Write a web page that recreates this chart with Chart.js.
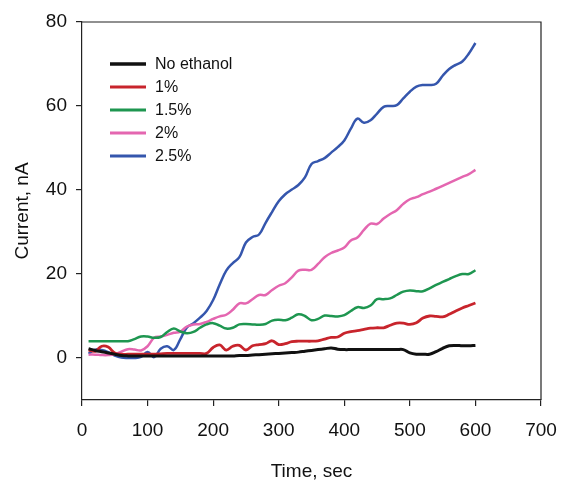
<!DOCTYPE html>
<html>
<head>
<meta charset="utf-8">
<script src="https://cdn.jsdelivr.net/npm/chart.js@4"></script>
<style>
  html, body { margin:0; padding:0; background:#fff; }
  #wrap { width:561px; height:483px; }
</style>
</head>
<body>
<div id="wrap"><canvas id="chart" width="561" height="483"></canvas></div>
<script>
// time axis (sec), one reading every 10 s
const times = [10,20,30,40,50,60,70,80,90,100,110,120,130,140,150,160,170,180,190,200,
               210,220,230,240,250,260,270,280,290,300,310,320,330,340,350,360,370,380,390,400,
               410,420,430,440,450,460,470,480,490,500,510,520,530,540,550,560,570,580,590,600];

const seriesNames = ["No ethanol", "1%", "1.5%", "2%", "2.5%"];

const noEthanol = [2.2,1.8,1.5,1.2,0.9,0.6,0.5,0.5,0.5,0.5,0.5,0.5,0.5,0.5,0.5,0.5,0.5,0.5,0.5,0.5,
                   0.5,0.5,0.5,0.6,0.6,0.7,0.8,0.9,1.0,1.1,1.2,1.3,1.4,1.6,1.8,2.0,2.2,2.4,2.1,2.0,
                   2.0,2.0,2.0,2.0,2.0,2.0,2.0,2.0,2.0,1.2,0.9,0.9,0.9,1.5,2.3,2.9,3.0,2.9,2.9,3.0];

const eth1 = [1.9,1.6,2.8,2.6,1.2,0.9,0.9,0.9,0.9,0.9,0.9,1.0,1.1,1.1,1.1,1.1,1.1,1.1,1.1,2.5,
              3.1,1.9,2.8,3.0,1.9,2.9,3.2,3.4,4.1,3.2,3.4,3.9,4.0,4.0,4.0,4.1,4.5,4.9,5.0,5.9,
              6.3,6.5,6.8,7.1,7.2,7.2,7.8,8.3,8.3,8.0,8.4,9.5,10.0,9.9,9.8,10.4,11.2,11.9,12.5,13.1];

const eth15 = [4.0,4.0,4.0,4.0,4.0,4.0,4.0,4.5,5.1,5.1,4.8,5.0,6.2,7.0,6.3,5.9,6.2,7.2,8.0,8.3,
               7.7,7.0,7.2,8.0,8.1,8.0,7.9,8.1,8.9,9.1,9.0,9.6,10.4,10.0,9.0,9.3,10.1,10.0,9.9,10.2,
               11.2,12.1,11.9,12.5,14.0,14.0,14.2,15.0,15.8,16.1,15.9,15.9,16.6,17.4,18.1,18.8,19.5,20.0,20.0,20.9];

const eth2 = [0.8,0.8,0.7,0.7,0.9,1.5,2.1,2.0,1.8,2.8,4.8,5.1,5.5,6.0,6.3,7.5,8.0,8.1,8.6,9.3,
              9.9,10.3,11.5,13.0,13.0,14.0,15.0,15.0,16.2,17.2,17.8,19.2,20.8,21.0,21.0,22.4,24.0,25.0,25.6,26.3,
              28.0,28.7,30.5,32.0,31.9,33.2,34.3,35.2,36.7,37.8,38.3,39.0,39.6,40.3,41.0,41.7,42.4,43.1,43.8,44.8];

const eth25 = [1.0,2.0,1.9,1.4,0.6,0.1,0.0,0.0,0.3,1.4,0.2,2.2,2.8,1.9,4.5,7.3,8.3,9.6,11.2,13.8,
               17.5,20.8,22.6,24.0,27.5,28.8,29.4,32.2,34.8,37.3,39.0,40.1,41.2,43.0,46.2,46.9,47.6,48.9,50.2,51.8,
               54.6,57.0,56.0,56.6,58.2,59.8,60.0,60.2,61.8,63.4,64.6,65.0,65.0,65.3,67.2,68.8,69.8,70.6,72.5,75.0];

const yTicks = [0, 20, 40, 60, 80];

const colors = ["#111111", "#c8242c", "#1e9650", "#e466b0", "#3556ad"];
const widths = [3, 2.8, 2.5, 2.5, 2.5];

const FONT = "'Liberation Sans', Arial, Helvetica, sans-serif";

function pts(vals){
    return times.map((t,i) => ({x:t, y:vals[i]}));
}

const allSeries = [noEthanol, eth1, eth15, eth2, eth25];

// frame on top/right + legend inside the plot
const framePlugin = {
    id: "frame",
    afterDraw(chart){
        const {ctx, chartArea:a} = chart;
        ctx.save();
        ctx.strokeStyle = "#222";
        ctx.lineWidth = 1.2;
        ctx.beginPath();
        ctx.moveTo(a.left, a.top);
        ctx.lineTo(a.right, a.top);
        ctx.lineTo(a.right, a.bottom);
        ctx.stroke();

        // legend
        const x0 = 110, x1 = 146, tx = 155, y0 = 64, dy = 23;
        ctx.font = "16px " + FONT;
        ctx.textBaseline = "middle";
        ctx.fillStyle = "#111";
        chart.data.datasets.forEach((ds, i) => {
            const y = y0 + i*dy;
            ctx.strokeStyle = ds.borderColor;
            ctx.lineWidth = ds.borderWidth + 0.3;
            ctx.beginPath();
            ctx.moveTo(x0, y);
            ctx.lineTo(x1, y);
            ctx.stroke();
            ctx.fillText(ds.label, tx, y + 1);
        });
        ctx.restore();
    }
};

new Chart(document.getElementById("chart"), {
    type: "line",
    data: {
        datasets: allSeries.map((s, i) => ({
            label: seriesNames[i],
            data: pts(s),
            borderColor: colors[i],
            borderWidth: widths[i],
            pointRadius: 0,
            tension: 0.4,
            fill: false
        }))
    },
    options: {
        responsive: false,
        animation: false,
        layout: { padding: { left: 0, right: 20, top: 22, bottom: 0 } },
        plugins: { legend: { display: false }, tooltip: { enabled: false } },
        scales: {
            x: {
                type: "linear",
                min: 0, max: 700,
                ticks: { stepSize: 100, color: "#111", font: { family: FONT, size: 19 }, padding: 13, maxRotation: 0 },
                grid: { drawOnChartArea: false, drawTicks: true, tickLength: 6, color: "#222", lineWidth: 1.2 },
                border: { display: true, color: "#222", width: 1.2 },
                title: { display: true, text: "Time, sec", color: "#111", font: { family: FONT, size: 19 }, padding: { top: 0, bottom: 0 } },
                afterFit(scale){ scale.height = 83; scale.paddingLeft = 0; scale.paddingRight = 0; }
            },
            y: {
                min: -10, max: 80,
                afterBuildTicks(scale){ scale.ticks = yTicks.map(v => ({value: v})); },
                ticks: { color: "#111", font: { family: FONT, size: 19 }, padding: 9 },
                grid: { drawOnChartArea: false, drawTicks: true, tickLength: 6, color: "#222", lineWidth: 1.2 },
                border: { display: true, color: "#222", width: 1.2 },
                title: { display: true, text: "Current, nA", color: "#111", font: { family: FONT, size: 19 }, padding: { top: 11, bottom: 0 } },
                afterFit(scale){ scale.width = 82; scale.paddingTop = 0; scale.paddingBottom = 0; }
            }
        }
    },
    plugins: [framePlugin]
});
</script>
</body>
</html>
